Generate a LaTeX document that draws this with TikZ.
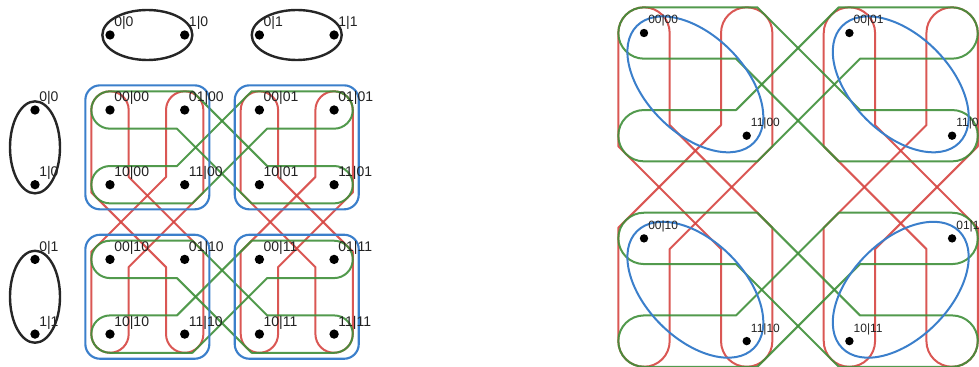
\documentclass[tikz,border=0pt]{standalone}
\usepackage{fontspec}
\setmainfont{Liberation Sans}
\definecolor{bandred}{HTML}{D64541}
\definecolor{bandgreen}{HTML}{3F8F3A}
\definecolor{setblue}{HTML}{3B7FCB}
\definecolor{inktext}{HTML}{222222}
\tikzset{
  redband/.style={draw=bandred, line width=1.5pt, draw opacity=0.9, line join=round},
  greenband/.style={draw=bandgreen, line width=1.5pt, draw opacity=0.9, line join=round},
  bluebox/.style={draw=setblue, line width=1.6pt, rounded corners=11pt},
  blueoval/.style={draw=setblue, line width=1.5pt},
  blackoval/.style={draw=black!85, line width=1.8pt},
  dotL/.style={circle, fill=black, inner sep=0pt, minimum size=7pt},
  dotR/.style={circle, fill=black, inner sep=0pt, minimum size=6.3pt},
  lblL/.style={anchor=base west, inner sep=0pt, text=inktext, font=\fontsize{10.5}{12}\selectfont},
  lblR/.style={anchor=base west, inner sep=0pt, text=inktext, font=\fontsize{9}{11}\selectfont},
}
% half width of a band and the offset that keeps its diagonal part equally wide
\newcommand\bandhw{0.25}
\newcommand\bandex{0.10355}
% two crossed vertical bands linking the upper and lower block of block column #1
\newcommand\redbandpair[1]{%
  \draw[redband] ({#1-\bandhw},{1+\bandex}) -- ({#1-\bandhw},0)
    arc[start angle=180,end angle=360,radius=\bandhw] -- ({#1+\bandhw},{1-\bandex})
    -- ({#1+1+\bandhw},{2-\bandex}) -- ({#1+1+\bandhw},3)
    arc[start angle=0,end angle=180,radius=\bandhw] -- ({#1+1-\bandhw},{2+\bandex}) -- cycle;
  \draw[redband] ({#1+1+\bandhw},{1+\bandex}) -- ({#1+1+\bandhw},0)
    arc[start angle=0,end angle=-180,radius=\bandhw] -- ({#1+1-\bandhw},{1-\bandex})
    -- ({#1-\bandhw},{2-\bandex}) -- ({#1-\bandhw},3)
    arc[start angle=180,end angle=0,radius=\bandhw] -- ({#1+\bandhw},{2+\bandex}) -- cycle;
}
% two crossed horizontal bands linking the left and right block of block row #1
\newcommand\greenbandpair[1]{%
  \draw[greenband] ({1+\bandex},{#1-\bandhw}) -- (0,{#1-\bandhw})
    arc[start angle=270,end angle=90,radius=\bandhw] -- ({1-\bandex},{#1+\bandhw})
    -- ({2-\bandex},{#1+1+\bandhw}) -- (3,{#1+1+\bandhw})
    arc[start angle=90,end angle=-90,radius=\bandhw] -- ({2+\bandex},{#1+1-\bandhw}) -- cycle;
  \draw[greenband] ({1+\bandex},{#1+1+\bandhw}) -- (0,{#1+1+\bandhw})
    arc[start angle=90,end angle=270,radius=\bandhw] -- ({1-\bandex},{#1+1-\bandhw})
    -- ({2-\bandex},{#1-\bandhw}) -- (3,{#1-\bandhw})
    arc[start angle=-90,end angle=90,radius=\bandhw] -- ({2+\bandex},{#1+\bandhw}) -- cycle;
}
\begin{document}
\begin{tikzpicture}[x=0.75pt, y=-0.75pt]
  \useasboundingbox (0,0) rectangle (979,367);
  \clip (0,0) rectangle (979,367);

  % factor ovals above and left of the grid
  \draw[blackoval] (147.35,35) ellipse[x radius=45, y radius=25];
  \draw[blackoval] (296.75,35) ellipse[x radius=45, y radius=25];
  \draw[blackoval] (35,147.35) ellipse[x radius=25, y radius=46];
  \draw[blackoval] (35,296.75) ellipse[x radius=25, y radius=46];
  \foreach \px/\nm/\t in {110/t1/0|0, 184.7/t2/1|0, 259.4/t3/0|1, 334.1/t4/1|1} {
    \node[dotL] (\nm) at (\px,35) {};
    \node[lblL] at ([shift={(3pt,6pt)}]\nm.center) {\t};
  }
  \foreach \py/\nm/\t in {110/s1/0|0, 184.7/s2/1|0, 259.4/s3/0|1, 334.1/s4/1|1} {
    \node[dotL] (\nm) at (35,\py) {};
    \node[lblL] at ([shift={(3pt,6pt)}]\nm.center) {\t};
  }

  % full product grid
  \begin{scope}[xshift=82.5pt, yshift=-82.5pt, x=56.025pt, y=-56.025pt]
    \redbandpair{0}
    \redbandpair{2}
    \greenbandpair{0}
    \greenbandpair{2}
    \foreach \bx/\by in {0/0, 2/0, 0/2, 2/2}
      \draw[bluebox] ({\bx+0.5-0.83},{\by+0.5-0.83}) rectangle ({\bx+0.5+0.83},{\by+0.5+0.83});
    \foreach \i/\j/\t in {0/0/00|00, 1/0/01|00, 2/0/00|01, 3/0/01|01,
                          0/1/10|00, 1/1/11|00, 2/1/10|01, 3/1/11|01,
                          0/2/00|10, 1/2/01|10, 2/2/00|11, 3/2/01|11,
                          0/3/10|10, 1/3/11|10, 2/3/10|11, 3/3/11|11} {
      \node[dotL] (l\i\j) at (\i,\j) {};
      \node[lblL] at ([shift={(3pt,6pt)}]l\i\j.center) {\t};
    }
  \end{scope}

  % enlarged grid with the diagonal pairs
  \begin{scope}[xshift=483pt, yshift=-24.75pt, x=77.025pt, y=-77.025pt]
    \redbandpair{0}
    \redbandpair{2}
    \greenbandpair{0}
    \greenbandpair{2}
    \foreach \cx/\cy/\ang in {0.5/0.5/-45, 2.5/0.5/-45, 0.5/2.5/-45, 2.5/2.5/45}
      \draw[blueoval, rotate around={\ang:(\cx,\cy)}] (\cx,\cy) ellipse[x radius=0.805, y radius=0.477];
    \foreach \i/\j/\t in {0/0/00|00, 1/1/11|00, 2/0/00|01, 3/1/11|01,
                          0/2/00|10, 1/3/11|10, 3/2/01|11, 2/3/10|11} {
      \node[dotR] (r\i\j) at (\i,\j) {};
      \node[lblR] at ([shift={(3pt,6.75pt)}]r\i\j.center) {\t};
    }
  \end{scope}
\end{tikzpicture}
\end{document}
